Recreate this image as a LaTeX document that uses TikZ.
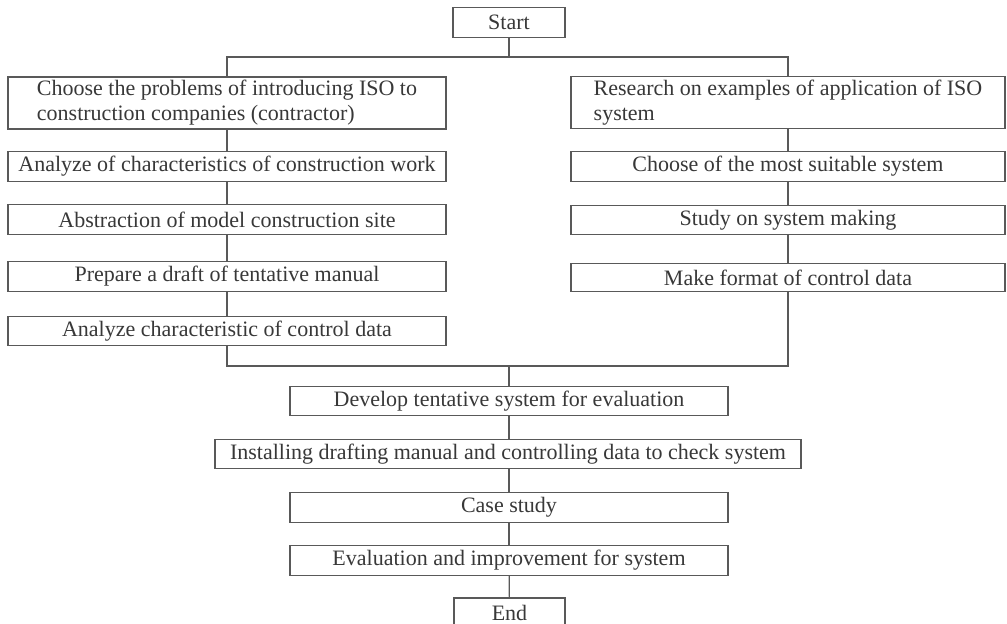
\documentclass[tikz,border=0pt]{standalone}
\usepackage{fontspec}
\setmainfont{Liberation Serif}
\definecolor{inkline}{gray}{0.35}
\definecolor{inktext}{gray}{0.22}
\tikzstyle{stepbox}=[draw=inkline,fill=white,rectangle,inner sep=0pt,line width=0.6pt,text=inktext,font=\fontsize{11}{12.5}\selectfont,minimum height=14.75pt]
\tikzstyle{sidebox}=[stepbox,minimum width=219pt]
\tikzstyle{twobox}=[sidebox,align=left,minimum height=26pt]
\tikzstyle{link}=[draw=inkline,line width=0.6pt]

\begin{document}
\begin{tikzpicture}[x=0.5pt,y=-0.5pt]
			\useasboundingbox (0,0) rectangle (1007,624);
			\node (start) at (509,22.5) [stepbox,minimum width=56pt] {Start};
			% left branch
			\node (problems) at (227,103) [twobox] {Choose the problems of introducing ISO to\\construction companies (contractor)};
			\node (charwork) at (227,166.5) [sidebox] {Analyze of characteristics of construction work};
			\node (abstraction) at (227,219.5) [sidebox] {Abstraction of model construction site};
			\node (draftmanual) at (227,276.5) [sidebox] {Prepare a draft of tentative manual};
			\node (ctrldata) at (227,331) [sidebox] {Analyze characteristic of control data};
			% right branch
			\node (research) at (788,102.5) [twobox,minimum width=217pt] {Research on examples of application of ISO\\system};
			\node (suitable) at (788,166.5) [sidebox,minimum width=217pt] {Choose of the most suitable system};
			\node (sysmaking) at (788,220) [sidebox,minimum width=217pt] {Study on system making};
			\node (ctrlformat) at (788,277.5) [sidebox,minimum width=217pt,minimum height=14pt] {Make format of control data};
			% common part
			\node (develop) at (509,401) [sidebox] {Develop tentative system for evaluation};
			\node (installing) at (508,454) [stepbox,minimum width=293pt] {Installing drafting manual and controlling data to check system};
			\node (casestudy) at (509,507.5) [sidebox] {Case study};
			\node (evaluation) at (509,560.5) [sidebox] {Evaluation and improvement for system};
			\node (finish) at (509.5,613) [stepbox,minimum width=55.5pt,minimum height=15pt] {End};
			\coordinate (split) at (509,57);
			\coordinate (merge) at (509,366);
			\draw [link] (start) -- (split);
			\draw [link] (split) -| (problems);
			\draw [link] (split) -| (research);
			\draw [link] (problems) -- (charwork);
			\draw [link] (charwork) -- (abstraction);
			\draw [link] (abstraction) -- (draftmanual);
			\draw [link] (draftmanual) -- (ctrldata);
			\draw [link] (research) -- (suitable);
			\draw [link] (suitable) -- (sysmaking);
			\draw [link] (sysmaking) -- (ctrlformat);
			\draw [link] (ctrldata) |- (merge);
			\draw [link] (ctrlformat) |- (merge);
			\draw [link] (merge) -- (develop);
			\draw [link] (develop) -- (installing.north -| develop);
			\draw [link] (installing.south -| casestudy) -- (casestudy);
			\draw [link] (casestudy) -- (evaluation);
			\draw [link] (evaluation) -- (finish);
		\end{tikzpicture}
\end{document}
